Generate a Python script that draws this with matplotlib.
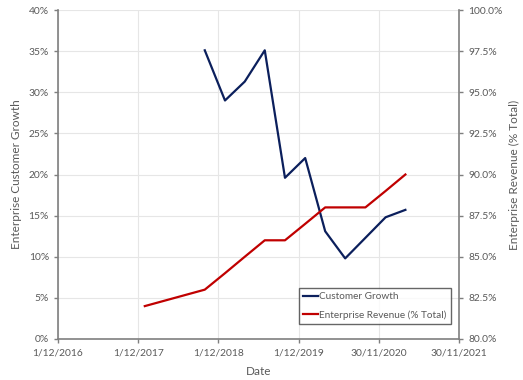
import matplotlib
matplotlib.use('Agg')
import matplotlib.pyplot as plt
from matplotlib.ticker import FuncFormatter
import pandas as pd

# --- data ---
growth_dates = ['2018-09-30', '2018-12-31', '2019-03-31', '2019-06-30', '2019-09-30',
                '2019-12-31', '2020-03-31', '2020-06-30', '2020-09-30', '2020-12-31',
                '2021-03-31']
growth_vals = [35.1, 29.0, 31.3, 35.1, 19.6, 22.0, 13.1, 9.8, 12.3, 14.8, 15.7]

rev_dates = ['2017-12-31', '2018-09-30', '2018-12-31', '2019-03-31', '2019-06-30',
             '2019-09-30', '2019-12-31', '2020-03-31', '2020-06-30', '2020-09-30',
             '2020-12-31', '2021-03-31']
rev_vals = [82.0, 83.0, 84.0, 85.0, 86.0, 86.0, 87.0, 88.0, 88.0, 88.0, 89.0, 90.0]

tick_dates = ['2016-12-01', '2017-12-01', '2018-12-01', '2019-12-01', '2020-11-30', '2021-11-30']

growth_dates = pd.to_datetime(growth_dates)
rev_dates = pd.to_datetime(rev_dates)
tick_dates = pd.to_datetime(tick_dates)

NAVY = '#0b1f5c'
RED = '#c00000'
GREY = '#595959'
SPINE = '#7f7f7f'

plt.rcParams['font.family'] = ['Lato', 'DejaVu Sans']

fig = plt.figure(figsize=(5.23, 3.80), dpi=100)
ax = fig.add_axes([58 / 523, 41 / 380, 401 / 523, 329 / 380])
ax2 = ax.twinx()

l1, = ax.plot(growth_dates, growth_vals, color=NAVY, lw=1.6, label='Customer Growth')
l2, = ax2.plot(rev_dates, rev_vals, color=RED, lw=1.6, label='Enterprise Revenue (% Total)')

ax.set_xlim(tick_dates[0], tick_dates[-1])
ax.set_xticks(tick_dates)
ax.set_xticklabels([f"{d.day}/{d.month}/{d.year}" for d in tick_dates])
ax.set_ylim(0, 40)
ax.set_yticks(range(0, 41, 5))
ax.yaxis.set_major_formatter(FuncFormatter(lambda v, p: f"{v:.0f}%"))
ax2.set_ylim(80, 100)
ax2.set_yticks([80 + 2.5 * i for i in range(9)])
ax2.yaxis.set_major_formatter(FuncFormatter(lambda v, p: f"{v:.1f}%"))

ax.grid(True, color='#e6e6e6', lw=0.8)
ax.set_axisbelow(True)

for a in (ax, ax2):
    a.spines['top'].set_visible(False)
    a.tick_params(colors=GREY, labelsize=7.4, length=3, width=1)
ax.spines['right'].set_visible(False)
ax2.spines['left'].set_visible(False)
ax2.spines['bottom'].set_visible(False)
ax.spines['left'].set_color(SPINE)
ax.spines['bottom'].set_color(SPINE)
ax2.spines['right'].set_color(SPINE)
for s in ('left', 'bottom'):
    ax.spines[s].set_linewidth(1.2)
ax2.spines['right'].set_linewidth(1.2)
ax.tick_params(axis='both', color=SPINE)
ax2.tick_params(axis='y', color=SPINE)
ax.tick_params(axis='x', pad=4)

ax.set_xlabel('Date', color=GREY, fontsize=8.5, labelpad=6)
ax.set_ylabel('Enterprise Customer Growth', color=GREY, fontsize=8.5, labelpad=5)
ax2.set_ylabel('Enterprise Revenue (% Total)', color=GREY, fontsize=8.5, labelpad=5)

leg = ax2.legend(handles=[l1, l2], loc='lower right', bbox_to_anchor=(0.98, 0.045),
                 borderaxespad=0, fontsize=7.2, frameon=True, fancybox=False,
                 handlelength=1.5, handletextpad=0.1, borderpad=0.45, labelspacing=0.9)
leg.get_frame().set_edgecolor('#404040')
leg.get_frame().set_linewidth(1.0)
for t in leg.get_texts():
    t.set_color(GREY)

fig.savefig('out.png', dpi=100)
